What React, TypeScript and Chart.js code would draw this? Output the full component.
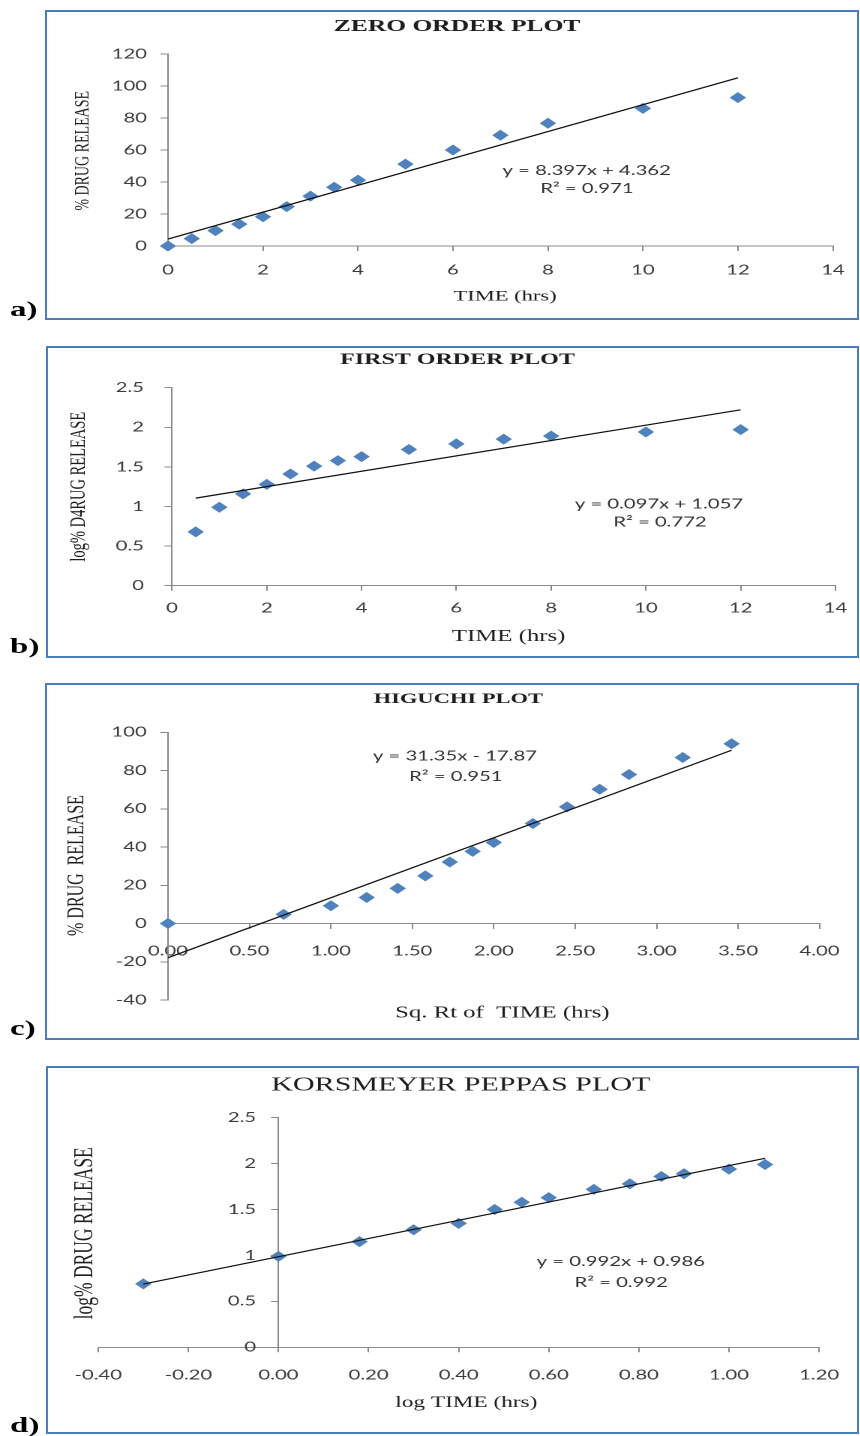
import React, { useEffect, useRef } from 'react';
import { Chart, registerables } from 'chart.js';

Chart.register(...registerables);

// ---------- data ----------
const zeroTime = [0, 0.5, 1, 1.5, 2, 2.5, 3, 3.5, 4, 5, 6, 7, 8, 10, 12];
const zeroRelease = [0, 4.6, 9.6, 13.7, 18.3, 24.6, 31.2, 36.7, 41.2, 51.2, 60.0, 69.2, 76.7, 86.0, 92.7];
const zeroTrend = [8.397, 4.362];
const zeroTrendRange = [0, 12];

const firstTime = [0.5, 1, 1.5, 2, 2.5, 3, 3.5, 4, 5, 6, 7, 8, 10, 12];
const firstLogRelease = [0.68, 0.99, 1.16, 1.28, 1.41, 1.51, 1.58, 1.63, 1.72, 1.79, 1.85, 1.89, 1.94, 1.97];
const firstTrend = [0.097, 1.057];
const firstTrendRange = [0.5, 12];

const higuchiSqrtTime = [0, 0.71, 1.0, 1.22, 1.41, 1.58, 1.73, 1.87, 2.0, 2.24, 2.45, 2.65, 2.83, 3.16, 3.46];
const higuchiRelease = [0, 4.8, 9.3, 13.6, 18.4, 24.9, 32.2, 37.7, 42.4, 52.3, 61.0, 70.2, 77.9, 86.8, 94.0];
const higuchiTrend = [31.35, -17.87];
const higuchiTrendRange = [0, 3.46];

const kpLogTime = [-0.3, 0, 0.18, 0.3, 0.4, 0.48, 0.54, 0.6, 0.7, 0.78, 0.85, 0.9, 1.0, 1.08];
const kpLogRelease = [0.69, 0.99, 1.15, 1.28, 1.35, 1.5, 1.58, 1.63, 1.72, 1.78, 1.86, 1.89, 1.94, 1.99];
const kpTrend = [0.992, 0.986];
const kpTrendRange = [-0.3, 1.08];

// ---------- style ----------
const S = 1.5; // horizontal stretch of the figure
const CW = 574; // canvas width in unstretched px
const AXIS_COLOR = '#8a8a8a';
const TICK_COLOR = '#3c3c3c';
const POINT_COLOR = '#4f81bd';
const BORDER_COLOR = '#4a7ebb';
const TICK_FONT = { family: 'Lato', size: 13.5 };
const SERIF = '"Liberation Serif", "Times New Roman", serif';
const SANS = 'Lato, "Open Sans", sans-serif';

type TextItem = { text: string; x: number; y: number; font: string; color?: string; rotate?: boolean };

function toPoints(xs: number[], ys: number[]) {
  return xs.map((x, i) => ({ x, y: ys[i] }));
}
function trendPoints(coef: number[], range: number[]) {
  return range.map((x) => ({ x, y: coef[0] * x + coef[1] }));
}

const plain = (v: number) => String(Math.abs(v) < 1e-9 ? 0 : Number(v.toFixed(4)));
const two = (v: number) => (Math.abs(v) < 1e-9 ? 0 : v).toFixed(2);

type AxisSpec = {
  min: number;
  max: number;
  step: number;
  fmt: (v: number) => string;
  pad: number;
  position: any;
  box: number; // width (y) or height (x) of the axis box
};

function makeAxis(a: AxisSpec, isY: boolean) {
  return {
    type: 'linear',
    position: a.position,
    min: a.min,
    max: a.max,
    ticks: {
      stepSize: a.step,
      padding: a.pad,
      color: TICK_COLOR,
      font: TICK_FONT,
      autoSkip: false,
      maxRotation: 0,
      callback: (v: any) => a.fmt(Number(v)),
    },
    grid: { drawOnChartArea: false, drawTicks: true, tickLength: 5, color: AXIS_COLOR, lineWidth: 1 },
    border: { display: true, color: AXIS_COLOR, width: 1 },
    afterFit: (s: any) => {
      if (isY) s.width = a.box;
      else s.height = a.box;
    },
  };
}

type PanelSpec = {
  top: number;
  height: number;
  padding: { left: number; right: number; top: number; bottom: number };
  x: AxisSpec;
  y: AxisSpec;
  yCrossAtZero?: boolean;
  points: { x: number; y: number }[];
  trend: { x: number; y: number }[];
  texts: TextItem[];
};

function textPlugin(items: TextItem[]) {
  return {
    id: 'panelTexts',
    afterDraw(chart: any) {
      const ctx = chart.ctx;
      for (const it of items) {
        ctx.save();
        ctx.font = it.font;
        ctx.fillStyle = it.color || '#1e1e1e';
        ctx.textAlign = 'center';
        ctx.textBaseline = 'middle';
        ctx.translate(it.x, it.y);
        if (it.rotate) ctx.rotate(-Math.PI / 2);
        ctx.fillText(it.text, 0, 0);
        ctx.restore();
      }
    },
  };
}

// moves the left y axis so that it crosses the x axis at x = 0
const crossYAxisPlugin = {
  id: 'crossYAxis',
  afterLayout(chart: any) {
    const ys = chart.scales.y;
    const px = chart.scales.x.getPixelForValue(0);
    ys.left = 0;
    ys.right = px;
    ys.width = px;
  },
};

const eqFont = `13.5px ${SANS}`;
const eqColor = '#333333';

const panels: PanelSpec[] = [
  {
    top: 10,
    height: 310,
    padding: { left: 0, right: 15.33, top: 44, bottom: 0 },
    x: { min: 0, max: 14, step: 2, fmt: plain, pad: 10.9, position: 'bottom', box: 74 },
    y: { min: 0, max: 120, step: 20, fmt: plain, pad: 9, position: 'left', box: 112 },
    points: toPoints(zeroTime, zeroRelease),
    trend: trendPoints(zeroTrend, zeroTrendRange),
    texts: [
      { text: 'ZERO ORDER PLOT', x: 304.7, y: 16.5, font: `bold 17px ${SERIF}` },
      { text: 'TIME (hrs)', x: 336.7, y: 286.7, font: `15px ${SERIF}` },
      { text: '% DRUG RELEASE', x: 55.3, y: 140.8, font: `14px ${SERIF}`, rotate: true },
      { text: 'y = 8.397x + 4.362', x: 391.1, y: 160.7, font: eqFont, color: eqColor },
      { text: 'R² = 0.971', x: 391.3, y: 178.7, font: eqFont, color: eqColor },
    ],
  },
  {
    top: 346,
    height: 312,
    padding: { left: 0, right: 14.67, top: 41.7, bottom: 0 },
    x: { min: 0, max: 14, step: 2, fmt: plain, pad: 9.2, position: 'bottom', box: 72.3 },
    y: { min: 0, max: 2.5, step: 0.5, fmt: plain, pad: 13.7, position: 'left', box: 114.67 },
    points: toPoints(firstTime, firstLogRelease),
    trend: trendPoints(firstTrend, firstTrendRange),
    texts: [
      { text: 'FIRST ORDER PLOT', x: 305, y: 14, font: `bold 16px ${SERIF}` },
      { text: 'TIME (hrs)', x: 339.1, y: 290.7, font: `16.5px ${SERIF}` },
      { text: 'log% D4RUG RELEASE', x: 52.7, y: 140.7, font: `14.5px ${SERIF}`, rotate: true },
      { text: 'y = 0.097x + 1.057', x: 439.3, y: 158.3, font: eqFont, color: eqColor },
      { text: 'R² = 0.772', x: 440, y: 176.3, font: eqFont, color: eqColor },
    ],
  },
  {
    top: 683,
    height: 357,
    padding: { left: 0, right: 17.8, top: 49.3, bottom: 40 },
    x: { min: 0, max: 4, step: 0.5, fmt: two, pad: 14.3, position: { y: 0 }, box: 0 },
    y: { min: -40, max: 100, step: 20, fmt: plain, pad: 9.2, position: 'left', box: 112 },
    points: toPoints(higuchiSqrtTime, higuchiRelease),
    trend: trendPoints(higuchiTrend, higuchiTrendRange),
    texts: [
      { text: 'HIGUCHI PLOT', x: 305.6, y: 16, font: `bold 15px ${SERIF}` },
      { text: 'Sq. Rt of  TIME (hrs)', x: 334.9, y: 330.3, font: `16.5px ${SERIF}` },
      { text: '% DRUG  RELEASE', x: 51.1, y: 182.5, font: `16px ${SERIF}`, rotate: true },
      { text: 'y = 31.35x - 17.87', x: 303.3, y: 73, font: eqFont, color: eqColor },
      { text: 'R² = 0.951', x: 303.9, y: 93.7, font: eqFont, color: eqColor },
    ],
  },
  {
    top: 1066,
    height: 368,
    padding: { left: 65.5, right: 17.3, top: 51.7, bottom: 0 },
    x: { min: -0.4, max: 1.2, step: 0.2, fmt: two, pad: 14.6, position: 'bottom', box: 86.7 },
    y: { min: 0, max: 2.5, step: 0.5, fmt: plain, pad: 9.9, position: 'left', box: 0 },
    yCrossAtZero: true,
    points: toPoints(kpLogTime, kpLogRelease),
    trend: trendPoints(kpTrend, kpTrendRange),
    texts: [
      { text: 'KORSMEYER PEPPAS PLOT', x: 307.2, y: 19.3, font: `20px ${SERIF}` },
      { text: 'log TIME (hrs)', x: 310.9, y: 337, font: `15.5px ${SERIF}` },
      { text: 'log% DRUG RELEASE', x: 56.7, y: 167.3, font: `17.5px ${SERIF}`, rotate: true },
      { text: 'y = 0.992x + 0.986', x: 413.9, y: 195.7, font: eqFont, color: eqColor },
      { text: 'R² = 0.992', x: 414.1, y: 216.7, font: eqFont, color: eqColor },
    ],
  },
];

const borders = [
  { left: 45, top: 10, width: 814, height: 310 },
  { left: 46, top: 346, width: 813, height: 312 },
  { left: 45, top: 683, width: 814, height: 357 },
  { left: 46, top: 1066, width: 813, height: 368 },
];

const panelLabels = [
  { text: 'a)', top: 297.6 },
  { text: 'b)', top: 634.6 },
  { text: 'c)', top: 1016.6 },
  { text: 'd)', top: 1413.6 },
];

function Panel({ spec }: { spec: PanelSpec }) {
  const ref = useRef<HTMLCanvasElement>(null);
  useEffect(() => {
    if (!ref.current) return;
    const plugins: any[] = [textPlugin(spec.texts)];
    if (spec.yCrossAtZero) plugins.push(crossYAxisPlugin);
    const chart = new Chart(ref.current, {
      type: 'scatter',
      data: {
        datasets: [
          {
            label: 'Linear trend',
            data: spec.trend,
            showLine: true,
            borderColor: '#111111',
            borderWidth: 1.2,
            pointRadius: 0,
            pointHoverRadius: 0,
            order: 0,
          },
          {
            label: 'Release',
            data: spec.points,
            pointStyle: 'rectRot',
            pointRadius: 5.5,
            pointHoverRadius: 5.5,
            backgroundColor: POINT_COLOR,
            borderColor: POINT_COLOR,
            borderWidth: 0,
            order: 1,
            clip: false,
          },
        ],
      } as any,
      options: {
        responsive: false,
        animation: false,
        devicePixelRatio: 2,
        layout: { padding: spec.padding },
        plugins: { legend: { display: false }, tooltip: { enabled: false }, title: { display: false } },
        events: [],
        scales: {
          x: makeAxis(spec.x, false),
          y: makeAxis(spec.y, true),
        } as any,
      },
      plugins,
    });
    return () => chart.destroy();
  }, [spec]);
  return (
    <canvas
      ref={ref}
      width={CW}
      height={spec.height}
      style={{ position: 'absolute', left: 0, top: spec.top, width: CW, height: spec.height }}
    />
  );
}

export default function App() {
  return (
    <div
      style={{
        position: 'absolute',
        left: 0,
        top: 0,
        width: 860,
        height: 1436,
        background: '#ffffff',
        overflow: 'hidden',
      }}
    >
      {borders.map((b, i) => (
        <div
          key={i}
          style={{
            position: 'absolute',
            left: b.left,
            top: b.top,
            width: b.width,
            height: b.height,
            border: `2px solid ${BORDER_COLOR}`,
            boxSizing: 'border-box',
          }}
        />
      ))}
      <div
        style={{
          position: 'absolute',
          left: 0,
          top: 0,
          width: CW,
          height: 1436,
          transform: `scaleX(${S})`,
          transformOrigin: '0 0',
        }}
      >
        {panels.map((p, i) => (
          <Panel key={i} spec={p} />
        ))}
        {panelLabels.map((l) => (
          <div
            key={l.text}
            style={{
              position: 'absolute',
              left: 6.7,
              top: l.top,
              font: `bold 22px ${SERIF}`,
              lineHeight: '22px',
              color: '#000',
              whiteSpace: 'nowrap',
            }}
          >
            {l.text}
          </div>
        ))}
      </div>
    </div>
  );
}
